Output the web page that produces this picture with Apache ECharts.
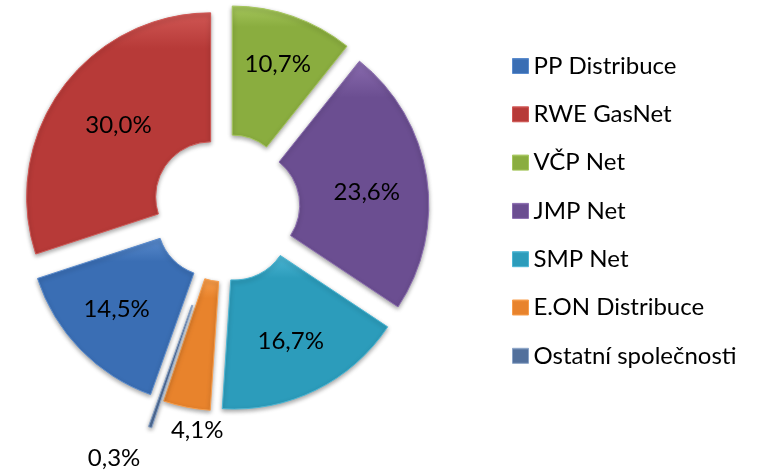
<!DOCTYPE html>
<html>
<head>
<meta charset="utf-8">
<script src="https://cdn.jsdelivr.net/npm/echarts@6/dist/echarts.min.js"></script>
<style>
  html, body { margin: 0; padding: 0; background: #fff; }
  #chart { width: 757px; height: 470px; }
</style>
</head>
<body>
<div id="chart"></div>
<script>
// podíl provozovatelů distribučních soustav (%)
const names = ['PP Distribuce', 'RWE GasNet', 'VČP Net', 'JMP Net', 'SMP Net', 'E.ON Distribuce', 'Ostatní společnosti']
const shares = [14.5, 30.0, 10.7, 23.6, 16.7, 4.1, 0.3]
const colors = ['#3A6EB4', '#B73A38', '#8AAD3F', '#6B4E91', '#2C9CBB', '#E8832C', '#52709C']
const lighter = ['#5A8BCD', '#D05754', '#A5C65C', '#8A6CAF', '#4CB6D4', '#F89E4C', '#8AA3C6']

const outsideIdx = [5, 6]       // labels drawn outside the ring
const thinIdx = 6               // exploded further than the rest

const chart = echarts.init(document.getElementById('chart'))

const fmt = v => v.toFixed(1).replace('.', ',') + '%'

function fill(i) {
  return new echarts.graphic.LinearGradient(0, 0, 0, 1, [
    { offset: 0, color: lighter[i] },
    { offset: 0.15, color: colors[i] },
    { offset: 1, color: colors[i] },
  ])
}

const hidden = { color: 'rgba(0,0,0,0)', borderWidth: 0, shadowBlur: 0 }

// small nudges so the labels sit where the original had them
const labelShift = [[-8, 3], [7, 0], [5, -10], [1, 6], [2, 6], [47, -3], [6, 0]]

function ringData(forThin) {
  return names.map((name, i) => {
    const mine = forThin ? i === thinIdx : i !== thinIdx
    const outside = outsideIdx.includes(i)
    return {
      name,
      value: shares[i],
      selected: mine,
      itemStyle: mine ? {
        color: fill(i),
        borderColor: lighter[i],
        borderWidth: 1,
        shadowBlur: 4,
        shadowColor: 'rgba(0,0,0,0.35)',
        shadowOffsetY: 2,
      } : hidden,
      label: {
        show: mine,
        position: outside ? 'outside' : 'inner',
      },
      labelLine: { show: false, length: i === thinIdx ? 33 : 27, length2: 0 },
    }
  })
}

const common = {
  type: 'pie',
  center: [226, 208],
  radius: [55, 184],
  startAngle: 250.36,
  clockwise: true,
  selectedMode: 'multiple',
  avoidLabelOverlap: false,
  silent: true,
  animation: false,
  emphasis: { disabled: true },
  label: {
    formatter: p => fmt(p.value),
    color: '#000',
    fontFamily: 'Lato',
    fontSize: 24,
  },
  labelLayout: p => ({ dx: labelShift[p.dataIndex][0], dy: labelShift[p.dataIndex][1] }),
}

chart.setOption({
  backgroundColor: '#fff',
  legend: {
    orient: 'vertical',
    left: 507,
    top: 49,
    itemWidth: 16,
    itemHeight: 15,
    itemGap: 24.3,
    icon: 'rect',
    selectedMode: false,
    textStyle: { fontFamily: 'Lato', fontSize: 24, color: '#000', lineHeight: 24 },
    data: names.map((name, i) => ({
      name,
      itemStyle: { color: fill(i), borderColor: lighter[i], borderWidth: 1 },
    })),
  },
  series: [
    Object.assign({}, common, {
      selectedOffset: 19,
      data: ringData(false),
    }),
    Object.assign({}, common, {
      selectedOffset: 48,
      data: ringData(true),
    }),
  ],
})
</script>
</body>
</html>
